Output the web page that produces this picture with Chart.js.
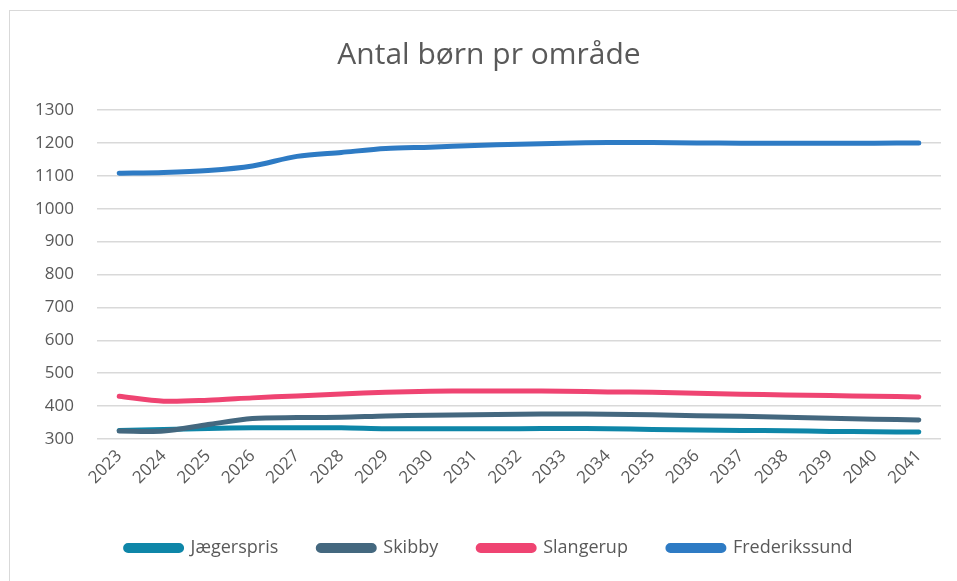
<!DOCTYPE html>
<html>
<head>
<meta charset="utf-8">
<script src="https://cdn.jsdelivr.net/npm/chart.js@4.4.1/dist/chart.umd.min.js"></script>
<style>
  html, body { margin: 0; padding: 0; background: #fff; overflow: hidden; }
  #frame { position: absolute; left: 9px; top: 10px; width: 1000px; height: 1000px; border: 1px solid #d9d9d9; }
  #wrap { position: absolute; left: 0; top: 0; width: 957px; height: 581px; }
</style>
</head>
<body>
<div id="frame"></div>
<div id="wrap"><canvas id="myChart" width="957" height="581"></canvas></div>
<script>
// antal børn pr område, 2023-2041
const years = ["2023", "2024", "2025", "2026", "2027", "2028", "2029", "2030", "2031", "2032",
               "2033", "2034", "2035", "2036", "2037", "2038", "2039", "2040", "2041"];
const jaegerspris   = [326, 329, 332, 334, 334, 334, 331, 331, 331, 331, 332, 331, 329, 327, 326, 325, 323, 322, 321];
const skibby        = [324, 324, 344, 362, 365, 366, 370, 372, 374, 375, 376, 375, 374, 371, 369, 366, 363, 360, 358];
const slangerup     = [430, 415, 418, 425, 431, 437, 442, 445, 446, 446, 445, 443, 442, 439, 436, 434, 432, 430, 428];
const frederikssund = [1108, 1110, 1116, 1130, 1159, 1171, 1183, 1187, 1192, 1196, 1199, 1201, 1201, 1200, 1199, 1199, 1199, 1199, 1200];
const yTicks = [300, 400, 500, 600, 700, 800, 900, 1000, 1100, 1200, 1300];

const names = ["Jægerspris", "Skibby", "Slangerup", "Frederikssund"];
const colors = ["#0e86a8", "#44687f", "#ef4472", "#2e7bc4"];
const series = [jaegerspris, skibby, slangerup, frederikssund];

const textColor = "#595959";
const font = "'Open Sans', sans-serif";

const ctx = document.getElementById("myChart").getContext("2d");
new Chart(ctx, {
    type: "line",
    data: {
        labels: years,
        datasets: series.map((d, i) => ({
            label: names[i],
            data: d,
            borderColor: colors[i],
            backgroundColor: colors[i],
            borderWidth: 5,
            borderCapStyle: "round",
            borderJoinStyle: "round",
            pointRadius: 0,
            pointHoverRadius: 0,
            tension: 0.3,
            fill: false,
            order: series.length - i   // later series drawn on top, like Excel
        }))
    },
    options: {
        responsive: false,
        animation: false,
        layout: { padding: { left: 21, right: 0, top: 0, bottom: 14 } },
        plugins: {
            title: {
                display: true,
                text: "Antal børn pr område",
                color: textColor,
                font: { family: font, size: 30, weight: "normal", lineHeight: 1.2 },
                padding: { top: 37, bottom: 37 }
            },
            legend: {
                position: "bottom",
                labels: {
                    color: textColor,
                    font: { family: font, size: 18 },
                    boxWidth: 56,
                    boxHeight: 5,
                    useBorderRadius: true,
                    borderRadius: 2.5,
                    padding: 40,
                    sort: (a, b) => a.datasetIndex - b.datasetIndex
                }
            },
            tooltip: { enabled: false }
        },
        scales: {
            x: {
                offset: true,
                grid: { display: false, drawTicks: false },
                border: { display: false },
                ticks: {
                    color: textColor,
                    font: { family: font, size: 17 },
                    minRotation: 45,
                    maxRotation: 45,
                    padding: 7,
                    autoSkip: false
                },
                afterFit: (s) => { s.height = 60; }
            },
            y: {
                min: 300,
                max: 1300,
                afterBuildTicks: (s) => { s.ticks = yTicks.map(v => ({ value: v })); },
                grid: { color: "#d9d9d9", lineWidth: 1.5, drawTicks: false },
                border: { display: false },
                ticks: {
                    color: textColor,
                    font: { family: font, size: 17 },
                    padding: 23,
                    callback: (v) => String(v)
                },
                afterFit: (s) => { s.width = 76; }
            },
            y2: {
                position: "right",
                grid: { display: false, drawTicks: false },
                border: { display: false },
                ticks: { display: false },
                afterFit: (s) => { s.width = 16; }
            }
        }
    }
});
</script>
</body>
</html>
